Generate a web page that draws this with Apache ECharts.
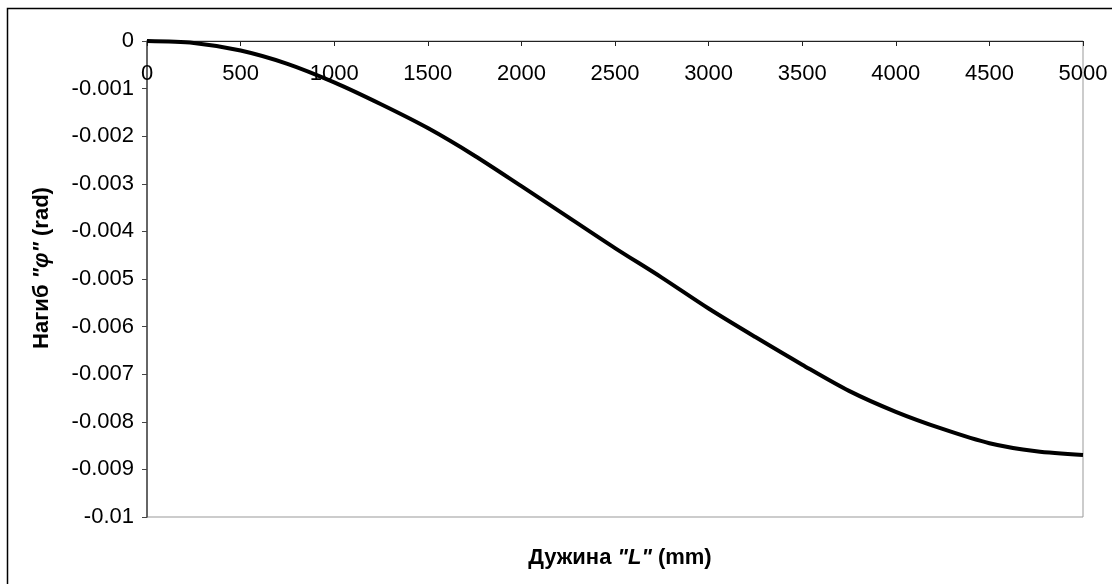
<!DOCTYPE html>
<html>
 <head>
  <title>Нагиб</title>
  <script src="https://cdn.jsdelivr.net/npm/echarts@6/dist/echarts.min.js"></script>
  <style>
    html, body, #container {
    width: 100%;
    height: 100%;
    margin: 0;
    padding: 0;
    background: #fff;
    }
  </style>
 </head>

<body>
  <div id="container"></div>
  <script>
    // span L (mm) and slope phi (rad)
    var spanL = [0, 250, 500, 750, 1000, 1250, 1500, 1750, 2000, 2250, 2500,
                 2750, 3000, 3250, 3500, 3750, 4000, 4250, 4500, 4750, 5000];
    var phi = [0, -0.00004, -0.0002, -0.00048, -0.00087, -0.00133, -0.00183, -0.00241,
               -0.00305, -0.0037, -0.00435, -0.00497, -0.00562, -0.00622, -0.0068,
               -0.00735, -0.00779, -0.00815, -0.00845, -0.00862, -0.0087];

    var points = spanL.map(function (x, i) { return [x, phi[i]]; });

    var font = 'Liberation Sans, Arial, sans-serif';
    var fs = 22;
    var chartDom = document.getElementById('container');
    var myChart = echarts.init(chartDom);

    var options = {
      animation: false,
      textStyle: { fontFamily: font },
      grid: {
        left: 147, right: 29, top: 41, bottom: 67,
        show: true, borderColor: '#999', borderWidth: 1
      },
      title: {
        text: 'Дужина {it|"L"} (mm)',
        left: 615,
        top: 542,
        textAlign: 'center',
        textStyle: {
          fontFamily: font, fontSize: fs, fontWeight: 'bold', color: '#000',
          rich: { it: { fontFamily: font, fontSize: fs, fontWeight: 'bold', fontStyle: 'italic', color: '#000' } }
        }
      },
      graphic: [{
        type: 'rect',
        silent: true,
        shape: { x: 7.5, y: 8.5, width: 1200, height: 700 },
        style: { fill: null, stroke: '#000', lineWidth: 1.5 }
      }],
      xAxis: {
        type: 'value',
        position: 'top',
        min: 0, max: 5000, interval: 500,
        axisLine: { onZero: false, lineStyle: { color: '#222', width: 1 } },
        axisTick: { inside: true, length: 5, lineStyle: { color: '#222' } },
        axisLabel: {
          inside: true, margin: 22, color: '#000', fontSize: fs, fontFamily: font,
          showMinLabel: true, showMaxLabel: true,
          formatter: function (v) { return String(v); }
        },
        splitLine: { show: false }
      },
      yAxis: {
        type: 'value',
        min: -0.01, max: 0, interval: 0.001,
        name: 'Нагиб {it|"φ"} (rad)',
        nameLocation: 'middle',
        nameRotate: 90,
        nameGap: 94,
        nameTextStyle: {
          fontFamily: font, fontSize: fs, fontWeight: 'bold', color: '#000',
          padding: [0, 0, 0, 22],
          rich: { it: { fontFamily: font, fontSize: fs, fontWeight: 'bold', fontStyle: 'italic', color: '#000' } }
        },
        axisLine: { show: true, onZero: false, lineStyle: { color: '#444', width: 1.5 } },
        axisTick: { show: true, length: 5, lineStyle: { color: '#444' } },
        axisLabel: {
          margin: 13, color: '#000', fontSize: fs, fontFamily: font,
          formatter: function (v) { return String(parseFloat(v.toFixed(3))); }
        },
        splitLine: { show: false }
      },
      series: [
        {
          name: 'phi',
          type: 'line',
          data: points,
          smooth: 0.3,
          showSymbol: false,
          lineStyle: { color: '#000', width: 4 }
        }
      ]
    };

    myChart.setOption(options);
  </script>
</body>
</html>
